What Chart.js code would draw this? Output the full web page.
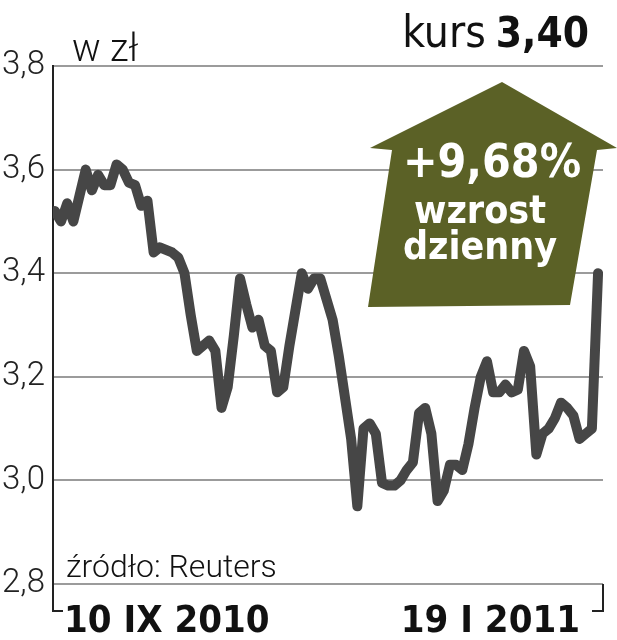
<!DOCTYPE html>
<html>
<head>
<meta charset="utf-8">
<script src="https://cdn.jsdelivr.net/npm/chart.js@4"></script>
<style>
  html, body { margin: 0; padding: 0; background: #fff; }
  #wrap { width: 617px; height: 640px; }
</style>
</head>
<body>
<div id="wrap"><canvas id="myChart"></canvas></div>
<script>
// trading days from 10 IX 2010 (0) to 19 I 2011 (88)
const days = [];
for (let i = 0; i <= 88; i++) days.push(i);

const prices = [
    3.52, 3.50, 3.535, 3.50, 3.55, 3.60, 3.56, 3.59, 3.57, 3.57,
    3.61, 3.60, 3.575, 3.57, 3.53, 3.54, 3.44, 3.45, 3.445, 3.44,
    3.43, 3.40, 3.32, 3.25, 3.26, 3.27, 3.25, 3.14, 3.18, 3.28,
    3.39, 3.34, 3.295, 3.31, 3.26, 3.25, 3.17, 3.18, 3.26, 3.33,
    3.40, 3.37, 3.39, 3.39, 3.35, 3.31, 3.24, 3.16, 3.08, 2.95,
    3.10, 3.11, 3.09, 2.995, 2.99, 2.99, 3.00, 3.02, 3.035, 3.13,
    3.14, 3.09, 2.96, 2.98, 3.03, 3.03, 3.02, 3.07, 3.14, 3.20,
    3.23, 3.17, 3.17, 3.185, 3.17, 3.175, 3.25, 3.22, 3.05, 3.09,
    3.10, 3.12, 3.15, 3.14, 3.125, 3.08, 3.09, 3.10, 3.40
];

const yTicks = [2.8, 3.0, 3.2, 3.4, 3.6, 3.8];
const dateLabels = ['10 IX 2010', '19 I 2011'];
const unitLabel = 'w zł';
const sourceLabel = 'źródło: Reuters';
const lastPrice = '3,40';
const dailyChange = '+9,68%';

const light = 'Roboto, "Liberation Sans", sans-serif';
const cond = '"DejaVu Sans Condensed", "Liberation Sans", sans-serif';

const extras = {
    id: 'extras',
    beforeDatasetsDraw(chart) {
        const ctx = chart.ctx;
        // green arrow
        ctx.save();
        ctx.fillStyle = '#5b6126';
        ctx.beginPath();
        ctx.moveTo(502, 82);
        ctx.lineTo(617, 148);
        ctx.lineTo(597, 150);
        ctx.lineTo(570, 305);
        ctx.lineTo(368, 307);
        ctx.lineTo(392, 150);
        ctx.lineTo(370, 148);
        ctx.closePath();
        ctx.fill();

        ctx.fillStyle = '#fff';
        ctx.textAlign = 'center';
        ctx.textBaseline = 'alphabetic';
        ctx.font = 'bold 46px ' + cond;
        ctx.fillText(dailyChange, 492, 177);
        ctx.font = 'bold 39px ' + cond;
        ctx.fillText('wzrost', 480, 223);
        ctx.fillText('dzienny', 480, 259);
        ctx.restore();
    },
    afterDraw(chart) {
        const ctx = chart.ctx;
        const a = chart.chartArea;
        ctx.save();
        // bottom brackets
        ctx.strokeStyle = '#222';
        ctx.lineWidth = 2;
        ctx.beginPath();
        ctx.moveTo(a.left, a.bottom);
        ctx.lineTo(a.left, a.bottom + 27);
        ctx.lineTo(a.left + 10, a.bottom + 27);
        ctx.moveTo(a.right, a.bottom);
        ctx.lineTo(a.right, a.bottom + 27);
        ctx.lineTo(a.right - 11, a.bottom + 27);
        ctx.stroke();

        ctx.fillStyle = '#111';
        ctx.textBaseline = 'alphabetic';
        ctx.textAlign = 'left';
        ctx.font = '300 38px ' + light;
        ctx.fillText(unitLabel, 72, 61);
        ctx.font = '300 32px ' + light;
        ctx.fillText(sourceLabel, 66, 577);

        ctx.font = 'bold 38px ' + cond;
        ctx.fillText(dateLabels[0], 64, 632);
        ctx.textAlign = 'right';
        ctx.fillText(dateLabels[1], 580, 632);

        ctx.font = 'bold 42px ' + cond;
        ctx.fillText(lastPrice, 589, 47);
        const w = ctx.measureText(lastPrice).width;
        ctx.font = '44px ' + cond;
        ctx.fillText('kurs', 589 - w - 10, 47);
        ctx.restore();
    }
};

new Chart(document.getElementById('myChart'), {
    type: 'line',
    data: {
        labels: days,
        datasets: [{
            data: prices,
            borderColor: '#464646',
            borderWidth: 10,
            borderJoinStyle: 'round',
            borderCapStyle: 'round',
            pointRadius: 0,
            tension: 0,
            fill: false
        }]
    },
    options: {
        responsive: true,
        maintainAspectRatio: false,
        animation: false,
        layout: { padding: { top: 66, right: 14, bottom: 56, left: 0 } },
        plugins: { legend: { display: false }, tooltip: { enabled: false } },
        scales: {
            x: {
                type: 'linear',
                min: -0.3,
                max: 88.8,
                display: false
            },
            y: {
                min: 2.8,
                max: 3.8,
                afterFit: function(scale) { scale.width = 53; },
                afterBuildTicks: function(scale) {
                    scale.ticks = yTicks.map(v => ({ value: v }));
                },
                grid: { color: '#9b9b9b', lineWidth: 2, drawTicks: false },
                border: { display: true, color: '#222', width: 2 },
                ticks: {
                    padding: 8,
                    color: '#222',
                    font: { family: light, size: 33, weight: '300' },
                    callback: function(value) {
                        return value.toFixed(1).replace('.', ',');
                    }
                }
            }
        }
    },
    plugins: [extras]
});
</script>
</body>
</html>
